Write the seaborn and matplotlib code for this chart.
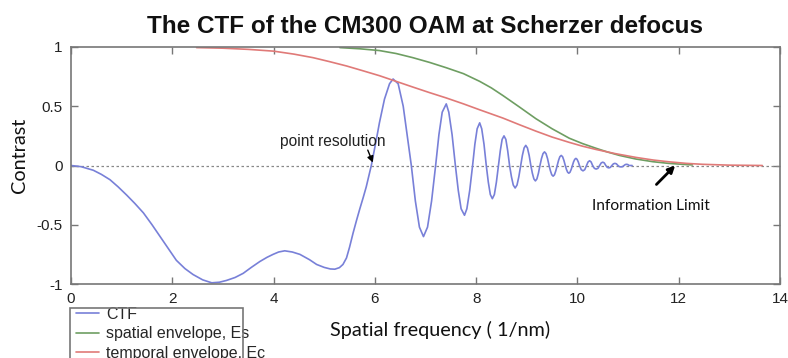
import numpy as np
import pandas as pd
import seaborn as sns
import matplotlib
matplotlib.use("Agg")
import matplotlib.pyplot as plt
from matplotlib.patches import Rectangle

# ---- data ----
ctf_x = [0.0, 0.2, 0.44, 0.6, 0.77, 0.93, 1.1, 1.26, 1.43, 1.6, 1.76, 1.92, 2.08, 2.25, 2.41, 2.6,
         2.78, 2.93, 3.07, 3.24, 3.40, 3.56, 3.73, 3.87, 3.99, 4.1, 4.22, 4.37, 4.52, 4.71, 4.85,
         5.0, 5.12, 5.21, 5.3, 5.37, 5.44, 5.5, 5.57, 5.64, 5.7, 5.77, 5.83, 5.88, 5.93,
         5.98, 6.03, 6.09, 6.19, 6.29, 6.36, 6.46, 6.56, 6.65, 6.72,
         6.80, 6.88, 6.96, 7.04, 7.12, 7.2,
         7.265, 7.33, 7.41, 7.46, 7.525, 7.59,
         7.647, 7.703, 7.77, 7.817, 7.873, 7.93,
         7.975, 8.02, 8.07, 8.11, 8.155, 8.2,
         8.24, 8.28, 8.32, 8.36, 8.40, 8.44,
         8.477, 8.513, 8.55, 8.587, 8.623, 8.66,
         8.697, 8.733, 8.77, 8.807, 8.843, 8.88,
         8.913, 8.947, 8.98, 9.013, 9.047, 9.08,
         9.11, 9.14, 9.17, 9.2, 9.23, 9.26,
         9.29, 9.32, 9.35, 9.38, 9.41, 9.44,
         9.467, 9.493, 9.52, 9.547, 9.573, 9.6,
         9.627, 9.653, 9.68, 9.707, 9.733, 9.76,
         9.783, 9.807, 9.83, 9.853, 9.877, 9.9,
         9.923, 9.947, 9.97, 9.993, 10.017, 10.04,
         10.075, 10.11, 10.145, 10.18,
         10.21, 10.24, 10.27, 10.3,
         10.335, 10.37, 10.405, 10.44,
         10.47, 10.5, 10.53, 10.56,
         10.59, 10.62, 10.65, 10.68,
         10.71, 10.74, 10.77, 10.8,
         10.83, 10.86, 10.89, 10.92,
         10.945, 10.97, 10.995, 11.02, 11.08]
ctf_y = [0.0, -0.01, -0.04, -0.075, -0.12, -0.18, -0.25, -0.32, -0.40, -0.50, -0.60, -0.70, -0.80, -0.87, -0.92, -0.965,
         -0.99, -0.985, -0.97, -0.945, -0.91, -0.86, -0.81, -0.775, -0.75, -0.73, -0.72, -0.73, -0.75, -0.795, -0.835,
         -0.86, -0.873, -0.875, -0.862, -0.835, -0.78, -0.69, -0.57, -0.46, -0.37, -0.27, -0.18, -0.09, 0.0,
         0.11, 0.22, 0.36, 0.56, 0.69, 0.73, 0.69, 0.50, 0.22, 0.0,
         -0.30, -0.52, -0.60, -0.52, -0.30, 0.0,
         0.26, 0.45, 0.52, 0.45, 0.26, 0.0,
         -0.21, -0.365, -0.42, -0.365, -0.21, 0.0,
         0.18, 0.31, 0.36, 0.31, 0.18, 0.0,
         -0.14, -0.245, -0.28, -0.245, -0.14, 0.0,
         0.125, 0.22, 0.25, 0.22, 0.125, 0.0,
         -0.095, -0.165, -0.19, -0.165, -0.095, 0.0,
         0.085, 0.148, 0.17, 0.148, 0.085, 0.0,
         -0.065, -0.113, -0.13, -0.113, -0.065, 0.0,
         0.058, 0.10, 0.115, 0.10, 0.058, 0.0,
         -0.045, -0.078, -0.09, -0.078, -0.045, 0.0,
         0.043, 0.074, 0.085, 0.074, 0.043, 0.0,
         -0.033, -0.057, -0.065, -0.057, -0.033, 0.0,
         0.03, 0.052, 0.06, 0.052, 0.03, 0.0,
         -0.035, -0.045, -0.035, 0.0,
         0.03, 0.04, 0.03, 0.0,
         -0.024, -0.03, -0.024, 0.0,
         0.022, 0.028, 0.022, 0.0,
         -0.016, -0.02, -0.016, 0.0,
         0.014, 0.018, 0.014, 0.0,
         -0.01, -0.012, -0.01, 0.0,
         0.008, 0.01, 0.008, 0.0, 0.0]

es_x = [5.31, 5.7, 6.09, 6.42, 6.75, 7.08, 7.41, 7.75, 8.07, 8.3, 8.53, 8.85, 9.18, 9.5, 9.84,
        10.1, 10.37, 10.6, 10.83, 11.15, 11.49, 11.8, 12.14, 12.27]
es_y = [0.995, 0.985, 0.97, 0.945, 0.91, 0.87, 0.825, 0.775, 0.71, 0.655, 0.59, 0.495, 0.395, 0.31, 0.23,
        0.185, 0.145, 0.113, 0.085, 0.055, 0.032, 0.018, 0.008, 0.005]

ec_x = [2.48, 3.0, 3.5, 4.0, 4.4, 4.78, 5.1, 5.44, 5.76, 6.09, 6.42, 6.75, 7.08, 7.41, 7.75, 8.07,
        8.53, 8.85, 9.18, 9.5, 9.84, 10.1, 10.37, 10.75, 11.16, 11.5, 11.81, 12.15, 12.47, 13.0, 13.65]
ec_y = [0.995, 0.99, 0.98, 0.965, 0.94, 0.91, 0.877, 0.84, 0.80, 0.758, 0.71, 0.662, 0.615, 0.57, 0.52, 0.47,
        0.40, 0.345, 0.29, 0.24, 0.195, 0.163, 0.135, 0.10, 0.068, 0.046, 0.031, 0.018, 0.01, 0.003, 0.0]

series_names = ["CTF", "spatial envelope, Es", "temporal envelope, Ec"]
series_colors = ["#7880d8", "#6e9e62", "#e07a78"]
x_ticks = [0, 2, 4, 6, 8, 10, 12, 14]
y_ticks = [-1, -0.5, 0, 0.5, 1]
y_tick_labels = ["-1", "-0.5", "0", "0.5", "1"]

title = "The CTF of the CM300 OAM at Scherzer defocus"
x_label = "Spatial frequency ( 1/nm)"
y_label = "Contrast"

# ---- build table ----
df = pd.concat([
    pd.DataFrame({"x": ctf_x, "y": ctf_y, "series": series_names[0]}),
    pd.DataFrame({"x": es_x, "y": es_y, "series": series_names[1]}),
    pd.DataFrame({"x": ec_x, "y": ec_y, "series": series_names[2]}),
], ignore_index=True)

sns.set_theme(style="white")
plt.rcParams["font.family"] = ["Liberation Sans", "DejaVu Sans"]

fig = plt.figure(figsize=(7.88, 3.58), dpi=100)
ax = fig.add_axes([71 / 788, 1 - 284 / 358, 709 / 788, 237 / 358])

# zero reference line
ax.plot([0, 14], [0, 0], color="#888888", lw=0.9, ls=(0, (2, 2)), zorder=1)

sns.lineplot(data=df, x="x", y="y", hue="series", hue_order=series_names,
             palette=dict(zip(series_names, series_colors)), sort=False,
             estimator=None, lw=1.2, ax=ax, zorder=2)

ax.set_xlim(0, 14)
ax.set_ylim(-1, 1)
ax.set_xticks(x_ticks)
ax.set_yticks(y_ticks)
ax.set_yticklabels(y_tick_labels)
ax.set_xlabel("")
ax.set_ylabel("")
for s in ax.spines.values():
    s.set_color("#777777")
    s.set_linewidth(1.2)
    s.set_visible(True)
ax.tick_params(direction="in", length=5, width=1, color="#777777",
               top=True, right=True, bottom=True, left=True,
               labelsize=11, labelcolor="#222222", pad=6)

# annotations
ax.annotate("point resolution", xy=(5.17, 0.2), ha="center", va="center",
            fontsize=11.2, color="#222222")
ax.annotate("", xy=(5.96, 0.025), xytext=(5.86, 0.13),
            arrowprops=dict(arrowstyle="-|>", color="black", lw=1, mutation_scale=9,
                            shrinkA=0, shrinkB=0))
ax.annotate("Information Limit", xy=(11.45, -0.34), ha="center", va="center",
            fontsize=11.2, family=["Lato", "DejaVu Sans"], color="#111111")
ax.annotate("", xy=(11.93, 0.0), xytext=(11.56, -0.16),
            arrowprops=dict(arrowstyle="-|>", color="black", lw=2, mutation_scale=10,
                            shrinkA=0, shrinkB=0))

# legend (text overflows its box in the reference, so the box is drawn separately)
handles, labels = ax.get_legend_handles_labels()
leg = ax.legend(handles, labels, loc="upper left", bbox_to_anchor=(5 / 709, -0.097),
                frameon=False, fontsize=11.5, handlelength=1.45,
                handletextpad=0.45, labelspacing=0.27, borderpad=0, borderaxespad=0)
for line in leg.get_lines():
    line.set_linewidth(1.2)
fig.patches.append(Rectangle((70 / 788, -0.05), 173 / 788, (358 - 308) / 358 + 0.05,
                             transform=fig.transFigure, fill=False,
                             edgecolor="#777777", linewidth=1.2))

# title and axis labels
fig.text(425 / 788, 1 - 33 / 358, title, ha="center", va="baseline",
         fontsize=17.5, fontweight="bold", color="#111111")
fig.text(440 / 788, 1 - 330 / 358, x_label, ha="center", va="center",
         fontsize=14.3, family=["Lato", "DejaVu Sans"], color="#111111")
fig.text(19 / 788, 1 - 155 / 358, y_label, ha="center", va="center", rotation=90,
         fontsize=14.3, family=["Lato", "DejaVu Sans"], color="#111111")

fig.savefig("out.png", dpi=100)
